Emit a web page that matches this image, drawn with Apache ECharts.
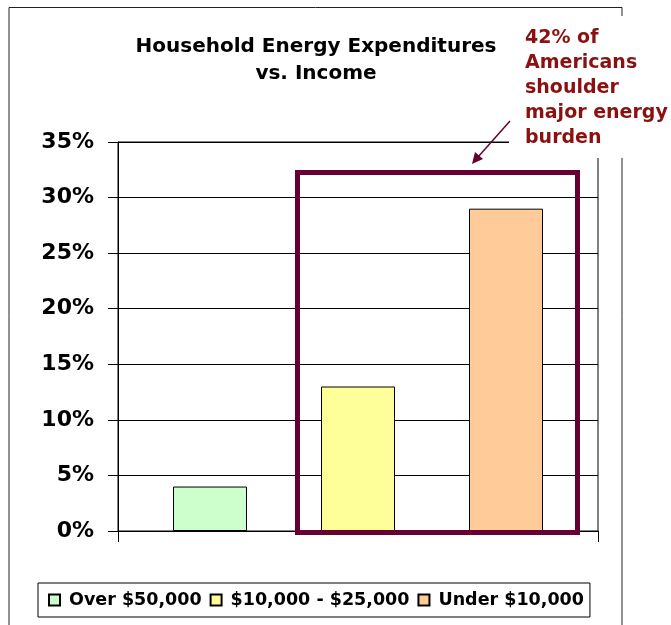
<!DOCTYPE html>
<html>
<head>
<meta charset="utf-8">
<script src="https://cdn.jsdelivr.net/npm/echarts@6/dist/echarts.min.js"></script>
<style>
  html, body { margin: 0; padding: 0; background: #fff; }
  #chart { width: 671px; height: 625px; }
</style>
</head>
<body>
<div id="chart"></div>
<script>
// data
const categories = [""];
const seriesNames = ["Over $50,000", "$10,000 - $25,000", "Under $10,000"];
const seriesValues = [[4], [13], [29]];
const seriesColors = ["#ccffcc", "#ffff99", "#ffcc99"];
const yTicks = [0, 5, 10, 15, 20, 25, 30, 35];

const titleLines = ["Household Energy Expenditures", "vs. Income"];
const noteLines = ["42% of", "Americans", "shoulder", "major energy", "burden"];

const FONT = "'DejaVu Sans', Verdana, sans-serif";
const MAROON = "#660033";

const myChart = echarts.init(document.getElementById("chart"));

const option = {
  animation: false,
  backgroundColor: "#fff",
  textStyle: { fontFamily: FONT },
  grid: {
    left: 118,
    right: 73,
    top: 142,
    bottom: 94,
    show: true,
    borderColor: "#000",
    borderWidth: 1,
  },
  legend: {
    left: 38,
    top: 583,
    orient: "horizontal",
    padding: [8, 6, 8, 10],
    itemGap: 8,
    itemWidth: 11,
    itemHeight: 11,
    borderColor: "#000",
    borderWidth: 1,
    icon: "rect",
    textStyle: {
      fontFamily: FONT,
      fontWeight: "bold",
      fontSize: 17.5,
      color: "#000",
      padding: [0, 0, 0, 4],
    },
    data: seriesNames,
  },
  xAxis: {
    type: "category",
    data: categories,
    boundaryGap: true,
    axisLine: { lineStyle: { color: "#000", width: 1 } },
    axisTick: { show: true, length: 11, lineStyle: { color: "#000" } },
    axisLabel: { show: false },
  },
  yAxis: {
    type: "value",
    min: yTicks[0],
    max: yTicks[yTicks.length - 1],
    interval: yTicks[1] - yTicks[0],
    axisLine: { show: true, lineStyle: { color: "#000", width: 1 } },
    axisTick: { show: true, length: 10, lineStyle: { color: "#000" } },
    splitLine: { lineStyle: { color: "#000", width: 1 } },
    axisLabel: {
      formatter: "{value}%",
      margin: 24,
      color: "#000",
      fontFamily: FONT,
      fontWeight: "bold",
      fontSize: 22,
    },
  },
  series: seriesNames.map((name, i) => ({
    name: name,
    type: "bar",
    data: seriesValues[i],
    barWidth: 74,
    barGap: "100%",
    itemStyle: { color: seriesColors[i], borderColor: "#000", borderWidth: 1 },
  })),
  graphic: [
    // outer frame
    {
      type: "polyline",
      z: 1,
      shape: { points: [[9, 640], [9, 7.5], [622, 7.5], [622, 640]] },
      style: { stroke: "#222", lineWidth: 1, fill: null },
    },
    // white box behind the note
    {
      type: "rect",
      z: 50,
      shape: { x: 509, y: 16, width: 162, height: 142 },
      style: { fill: "#fff" },
    },
    {
      type: "text",
      z: 60,
      x: 316,
      y: 33,
      style: {
        text: titleLines.join("\n"),
        align: "center",
        font: "bold 20px " + FONT,
        lineHeight: 27,
        fill: "#000",
      },
    },
    {
      type: "text",
      z: 60,
      x: 525,
      y: 26,
      style: {
        text: noteLines.join("\n"),
        align: "left",
        font: "bold 19px " + FONT,
        lineHeight: 25,
        fill: "#8b1111",
      },
    },
    // highlight box
    {
      type: "rect",
      z: 40,
      shape: { x: 297.5, y: 172.5, width: 280, height: 360 },
      style: { fill: null, stroke: MAROON, lineWidth: 5 },
    },
    // arrow
    {
      type: "line",
      z: 60,
      shape: { x1: 510, y1: 121, x2: 478, y2: 157 },
      style: { stroke: MAROON, lineWidth: 1.5 },
    },
    {
      type: "polygon",
      z: 60,
      shape: { points: [[472, 164], [475, 152], [483, 159]] },
      style: { fill: MAROON },
    },
  ],
};

option && myChart.setOption(option);
</script>
</body>
</html>
